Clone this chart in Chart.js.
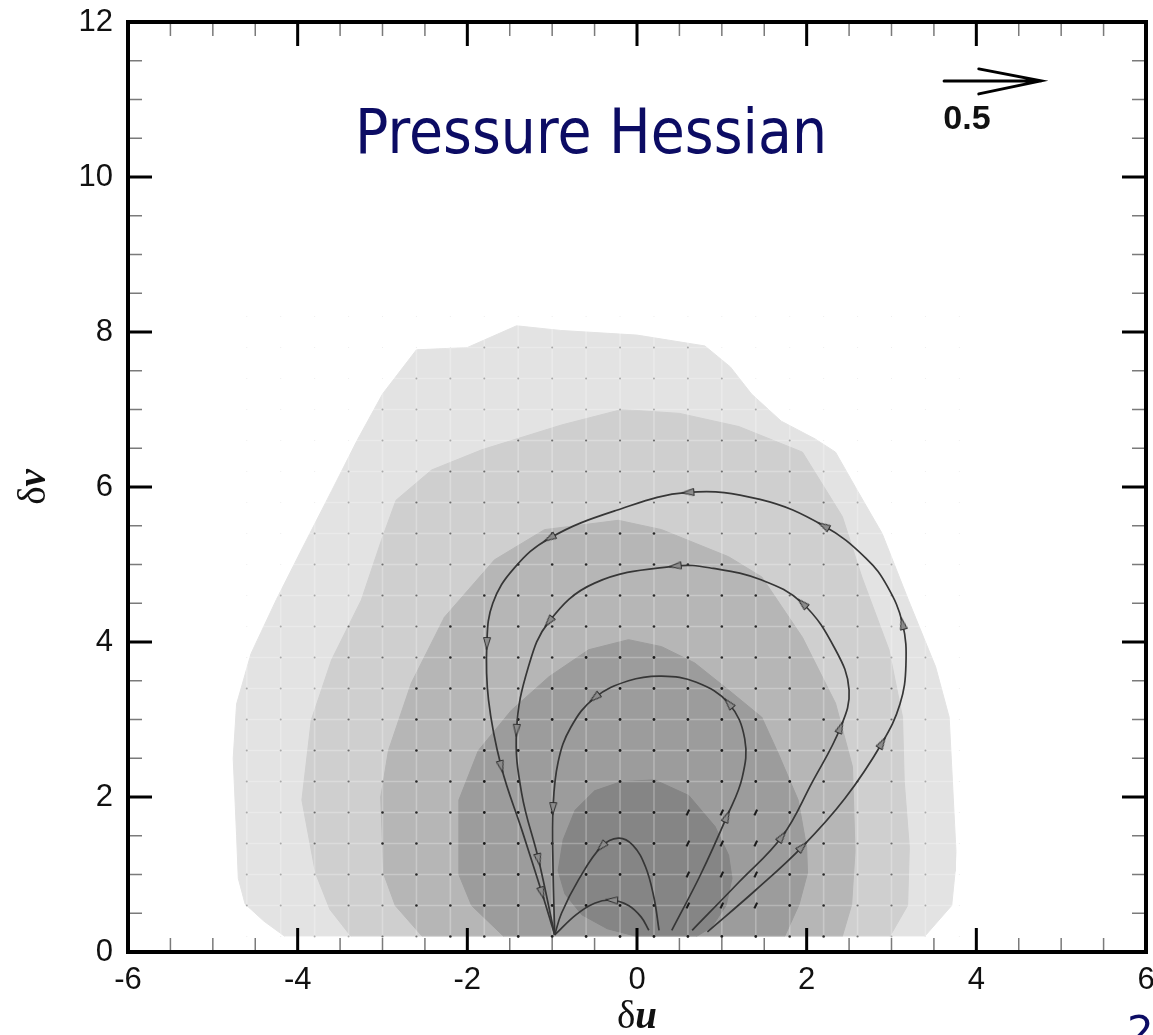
<!DOCTYPE html>
<html lang="en">
<head>
<meta charset="UTF-8">
<title>Pressure Hessian</title>
<style>
  html, body { margin: 0; padding: 0; background: #fff; }
  #wrap { width: 1153px; height: 1035px; }
</style>
<script src="https://cdn.jsdelivr.net/npm/chart.js@4/dist/chart.umd.min.js"></script>
</head>
<body>
<div id="wrap"><canvas id="hessianChart" width="1153" height="1035"></canvas></div>
<script>
// shaded bands of the joint density, outermost (lightest) first
const band1U = [-4.15, -4.4, -4.62, -4.7, -4.72, -4.76, -4.72, -4.55, -4.25, -3.95, -3.6, -3.3, -3.0, -2.6, -2.0, -1.42, -0.9, 0.0, 0.8, 1.1, 1.35, 1.7, 2.1, 2.34, 2.6, 2.89, 3.2, 3.52, 3.68, 3.7, 3.76, 3.75, 3.71, 3.39];
const band1V = [0.2, 0.4, 0.62, 0.95, 1.5, 2.5, 3.2, 3.85, 4.55, 5.2, 5.95, 6.6, 7.2, 7.77, 7.8, 8.08, 8.02, 7.96, 7.82, 7.55, 7.2, 6.85, 6.62, 6.45, 5.95, 5.4, 4.54, 3.68, 3.03, 2.6, 1.3, 1.04, 0.6, 0.2];
const band2U = [-3.37, -3.62, -3.79, -3.95, -3.84, -3.6, -3.25, -3.01, -2.84, -2.42, -1.83, -0.89, -0.18, 0.5, 1.2, 1.95, 2.42, 2.65, 2.97, 3.13, 3.15, 3.21, 3.19, 2.98];
const band2V = [0.2, 0.55, 1.02, 1.96, 2.99, 3.77, 4.54, 5.32, 5.83, 6.22, 6.48, 6.8, 7.0, 6.95, 6.78, 6.45, 5.62, 4.84, 3.9, 3.03, 2.2, 1.35, 0.6, 0.2];
const band3U = [-2.53, -2.85, -2.99, -3.02, -2.93, -2.66, -2.27, -1.68, -1.09, -0.22, 0.29, 1.08, 1.47, 1.95, 2.34, 2.54, 2.57, 2.53, 2.42];
const band3V = [0.2, 0.6, 1.02, 2.0, 2.6, 3.47, 4.32, 5.06, 5.45, 5.57, 5.45, 5.1, 4.84, 4.06, 3.21, 2.39, 1.3, 0.61, 0.2];
const band4U = [-1.57, -1.95, -2.1, -2.1, -1.87, -1.48, -1.04, -0.57, -0.1, 0.29, 0.68, 1.08, 1.47, 1.67, 1.9, 2.0, 2.01, 1.91, 1.74];
const band4V = [0.2, 0.6, 1.0, 1.96, 2.6, 3.12, 3.55, 3.9, 4.03, 3.94, 3.73, 3.38, 3.03, 2.55, 1.96, 1.35, 1.02, 0.61, 0.2];
const band5U = [0.0, -0.35, -0.65, -0.85, -0.93, -0.87, -0.73, -0.5, -0.18, 0.21, 0.61, 0.92, 1.08, 1.12, 1.05, 0.88, 0.7];
const band5V = [0.2, 0.3, 0.48, 0.75, 1.05, 1.45, 1.83, 2.08, 2.2, 2.22, 2.02, 1.62, 1.25, 0.95, 0.6, 0.32, 0.2];
const bandFill = ['#e3e3e3', '#cfcfcf', '#b6b6b6', '#9c9c9c', '#858585'];

// sampling mesh of the conditional mean vectors
const meshU = [-4.6, -4.2, -3.8, -3.4, -3.0, -2.6, -2.2, -1.8, -1.4, -1.0, -0.6, -0.2, 0.2, 0.6, 1.0, 1.4, 1.8, 2.2, 2.6, 3.0, 3.4, 3.8];
const meshV = [0.2, 0.6, 1.0, 1.4, 1.8, 2.2, 2.6, 3.0, 3.4, 3.8, 4.2, 4.6, 5.0, 5.4, 5.8, 6.2, 6.6, 7.0, 7.4, 7.8, 8.2];
// nodes where the vector is long enough to read as a dash
const dashU = [0.6, 1.0, 1.4];
const dashV = [0.6, 1.0, 1.4, 1.8];

// trajectories, each listed in the direction of travel
const streamU = [
  [0.83, 1.4, 1.95, 2.45, 2.89, 3.1, 3.17, 3.13, 2.95, 2.7, 2.2, 1.45, 0.6, -0.24, -1.03, -1.45, -1.7, -1.77, -1.75, -1.6, -1.35, -1.12, -0.97],
  [0.65, 1.2, 1.71, 2.06, 2.4, 2.5, 2.34, 1.95, 1.47, 0.9, 0.45, -0.5, -1.04, -1.28, -1.42, -1.36, -1.16, -0.97],
  [0.41, 0.75, 1.06, 1.24, 1.27, 1.08, 0.7, 0.29, -0.1, -0.5, -0.78, -0.93, -0.99, -0.99, -0.97],
  [0.26, 0.2, 0.1, -0.05, -0.22, -0.42, -0.69, -0.89, -0.97],
  [0.14, 0.05, -0.1, -0.3, -0.5, -0.72, -0.97]
];
const streamV = [
  [0.26, 0.8, 1.36, 1.98, 2.7, 3.2, 3.7, 4.24, 4.72, 5.08, 5.5, 5.84, 5.93, 5.7, 5.34, 4.95, 4.5, 3.98, 3.25, 2.39, 1.55, 0.76, 0.22],
  [0.28, 0.9, 1.49, 2.18, 2.9, 3.38, 3.9, 4.5, 4.8, 4.95, 4.98, 4.76, 4.26, 3.68, 2.86, 2.05, 1.19, 0.22],
  [0.28, 1.0, 1.75, 2.25, 2.75, 3.21, 3.48, 3.56, 3.5, 3.28, 2.9, 2.45, 1.85, 1.1, 0.22],
  [0.28, 0.7, 1.1, 1.38, 1.47, 1.36, 0.93, 0.5, 0.22],
  [0.28, 0.45, 0.6, 0.67, 0.63, 0.48, 0.22]
];
// arrowheads: [trajectory, vertex]
const arrowMarks = [
  [0, 2], [0, 4], [0, 7], [0, 10], [0, 12], [0, 14], [0, 17], [0, 19], [0, 21],
  [1, 2], [1, 4], [1, 7], [1, 10], [1, 12], [1, 14], [1, 16],
  [2, 2], [2, 5], [2, 9], [2, 12],
  [3, 5],
  [4, 3]
];

const bandsU = [band1U, band2U, band3U, band4U, band5U];
const bandsV = [band1V, band2V, band3V, band4V, band5V];

function inside(u, v, us, vs) {
  let c = false;
  for (let i = 0, j = us.length - 1; i < us.length; j = i++) {
    if ((vs[i] > v) !== (vs[j] > v) &&
        u < (us[j] - us[i]) * (v - vs[i]) / (vs[j] - vs[i]) + us[i]) c = !c;
  }
  return c;
}

function arrowHead() {
  const c = document.createElement('canvas');
  c.width = 8; c.height = 13;
  const g = c.getContext('2d');
  g.beginPath();
  g.moveTo(4, 0.5); g.lineTo(7.5, 12.5); g.lineTo(0.5, 12.5); g.closePath();
  g.fillStyle = '#8c8c8c'; g.fill();
  g.strokeStyle = '#2f2f2f'; g.lineWidth = 1; g.stroke();
  return c;
}

function headingAt(chart, li, k) {
  const {x, y} = chart.scales;
  const us = streamU[li], vs = streamV[li];
  const a = Math.max(k - 1, 0), b = Math.min(k + 1, us.length - 1);
  const dx = x.getPixelForValue(us[b]) - x.getPixelForValue(us[a]);
  const dy = y.getPixelForValue(vs[b]) - y.getPixelForValue(vs[a]);
  return Math.atan2(dy, dx) * 180 / Math.PI + 90;
}

const datasets = [];

bandsU.forEach((us, i) => {
  datasets.push({
    data: us.map((u, k) => ({x: u, y: bandsV[i][k]})),
    showLine: true, fill: 'shape', tension: 0,
    backgroundColor: bandFill[i], borderColor: bandFill[i], borderWidth: 1,
    pointRadius: 0, order: 20 - i
  });
});

// light mesh lines over the shading
const meshLines = [];
meshU.forEach(u => meshLines.push({x: u, y: meshV[0]}, {x: u, y: meshV[meshV.length - 1]}, {x: u, y: null}));
meshV.forEach(v => meshLines.push({x: meshU[0], y: v}, {x: meshU[meshU.length - 1], y: v}, {x: null, y: null}));
datasets.push({
  data: meshLines, showLine: true, spanGaps: false, tension: 0,
  borderColor: 'rgba(255,255,255,0.26)', borderWidth: 1.6, pointRadius: 0, order: 9
});

// vector dots, darker where the density is higher
const dotColor = ['rgba(0,0,0,0.08)', 'rgba(0,0,0,0.28)', 'rgba(0,0,0,0.5)', 'rgba(0,0,0,0.8)', 'rgba(0,0,0,0.85)', 'rgba(0,0,0,0.85)'];
const dotRadius = [0.6, 1.0, 1.1, 1.3, 1.4, 1.4];
const dots = [], dashes = [];
meshU.forEach(u => meshV.forEach(v => {
  if (dashU.includes(u) && dashV.includes(v)) { dashes.push({x: u, y: v}); return; }
  const level = bandsU.reduce((n, us, i) => n + (inside(u, v, us, bandsV[i]) ? 1 : 0), 0);
  dots.push({x: u, y: v, level});
}));
datasets.push({
  data: dots, order: 8, pointStyle: 'circle', pointBorderWidth: 0,
  pointRadius: c => dotRadius[c.raw.level],
  pointBackgroundColor: c => dotColor[c.raw.level]
});
datasets.push({
  data: dashes, order: 7, pointStyle: 'line', pointRadius: 3.2,
  pointBorderWidth: 2.2, pointBorderColor: '#1c1c1c', pointRotation: -65
});

streamU.forEach((us, i) => {
  datasets.push({
    data: us.map((u, k) => ({x: u, y: streamV[i][k]})),
    showLine: true, tension: 0.4, borderColor: '#363636', borderWidth: 1.7,
    pointRadius: 0, fill: false, order: 3
  });
});

const head = arrowHead();
datasets.push({
  data: arrowMarks.map(([li, k]) => ({x: streamU[li][k], y: streamV[li][k], li, k})),
  order: 1, pointStyle: head, pointRadius: 6,
  pointRotation: c => headingAt(c.chart, c.raw.li, c.raw.k)
});

// frame with inward ticks, the reference vector and the captions
const decorations = {
  id: 'decorations',
  afterDatasetsDraw(chart) {
    const {ctx, chartArea: a, scales: {x, y}} = chart;
    ctx.save();

    const mark = (scale, horizontal, len, width, color) => (val) => {
      const p = scale.getPixelForValue(val);
      ctx.strokeStyle = color; ctx.lineWidth = width;
      ctx.beginPath();
      if (horizontal) {
        ctx.moveTo(p, a.bottom); ctx.lineTo(p, a.bottom - len);
        ctx.moveTo(p, a.top); ctx.lineTo(p, a.top + len);
      } else {
        ctx.moveTo(a.left, p); ctx.lineTo(a.left + len, p);
        ctx.moveTo(a.right, p); ctx.lineTo(a.right - len, p);
      }
      ctx.stroke();
    };
    [[x, true], [y, false]].forEach(([s, h]) => {
      const major = s.ticks.map(t => t.value);
      const minor = [];
      for (let i = 0; i < major.length - 1; i++) {
        const step = (major[i + 1] - major[i]) / 4;
        minor.push(major[i] + step, major[i] + 2 * step, major[i] + 3 * step);
      }
      minor.forEach(mark(s, h, 14, 1.5, '#7a7a7a'));
      major.forEach(mark(s, h, 24, 3, '#000'));
    });

    ctx.strokeStyle = '#000';
    ctx.lineWidth = 4;
    ctx.strokeRect(a.left, a.top, a.right - a.left, a.bottom - a.top);

    // reference vector
    const kx0 = x.getPixelForValue(3.62), kx1 = x.getPixelForValue(4.76), ky = y.getPixelForValue(11.24);
    ctx.lineWidth = 3;
    ctx.lineCap = 'round';
    ctx.beginPath();
    ctx.moveTo(kx0, ky); ctx.lineTo(kx1, ky);
    ctx.moveTo(kx1 - 62, ky - 12); ctx.lineTo(kx1, ky); ctx.lineTo(kx1 - 62, ky + 13);
    ctx.stroke();
    ctx.fillStyle = '#111';
    ctx.font = 'bold 34px "Liberation Sans", Arial, sans-serif';
    ctx.textAlign = 'center'; ctx.textBaseline = 'middle';
    ctx.fillText('0.5', 967, 120);

    // panel title
    const title = 'Pressure Hessian';
    ctx.font = '63px "DejaVu Sans", Verdana, sans-serif';
    const tw = ctx.measureText(title).width;
    ctx.fillStyle = '#0c0c64';
    ctx.textAlign = 'left'; ctx.textBaseline = 'alphabetic';
    ctx.save();
    ctx.translate(355, 153);
    ctx.scale(472 / tw, 1);
    ctx.fillText(title, 0, 0);
    ctx.restore();

    // axis symbols
    const symbol = (cx, base, letter) => {
      const fa = '39px "Liberation Serif", serif';
      const fb = 'italic bold 39px "Liberation Serif", serif';
      ctx.font = fa; const w1 = ctx.measureText('δ').width;
      ctx.font = fb; const w2 = ctx.measureText(letter).width;
      const x0 = cx - (w1 + w2) / 2;
      ctx.fillStyle = '#111';
      ctx.textAlign = 'left'; ctx.textBaseline = 'alphabetic';
      ctx.font = fa; ctx.fillText('δ', x0, base);
      ctx.font = fb; ctx.fillText(letter, x0 + w1, base);
    };
    symbol(x.getPixelForValue(0), 1028, 'u');
    ctx.save();
    ctx.translate(45, y.getPixelForValue(6));
    ctx.rotate(-Math.PI / 2);
    symbol(0, 0, 'v');
    ctx.restore();

    // page number
    ctx.font = '42px "DejaVu Sans", sans-serif';
    ctx.fillStyle = '#0c0c64';
    ctx.textAlign = 'left'; ctx.textBaseline = 'alphabetic';
    ctx.fillText('2', 1127, 1046);

    ctx.restore();
  }
};

Chart.defaults.font.family = '"Liberation Sans", Arial, sans-serif';

new Chart(document.getElementById('hessianChart'), {
  type: 'scatter',
  data: {datasets},
  options: {
    responsive: false,
    devicePixelRatio: 1,
    animation: false,
    events: [],
    layout: {padding: {top: 22, right: 6, left: 0, bottom: 0}},
    plugins: {legend: {display: false}, tooltip: {enabled: false}},
    scales: {
      x: {
        type: 'linear', min: -6, max: 6,
        ticks: {stepSize: 2, padding: 10, color: '#111', font: {size: 31}, maxRotation: 0, autoSkip: false},
        grid: {display: false, drawTicks: false},
        border: {display: false},
        afterFit(s) { s.height = 83; s.paddingLeft = 0; s.paddingRight = 0; }
      },
      y: {
        type: 'linear', min: 0, max: 12,
        ticks: {stepSize: 2, padding: 15, color: '#111', font: {size: 31}, autoSkip: false},
        grid: {display: false, drawTicks: false},
        border: {display: false},
        afterFit(s) { s.width = 128; s.paddingTop = 0; s.paddingBottom = 0; }
      }
    }
  },
  plugins: [decorations]
});
</script>
</body>
</html>
